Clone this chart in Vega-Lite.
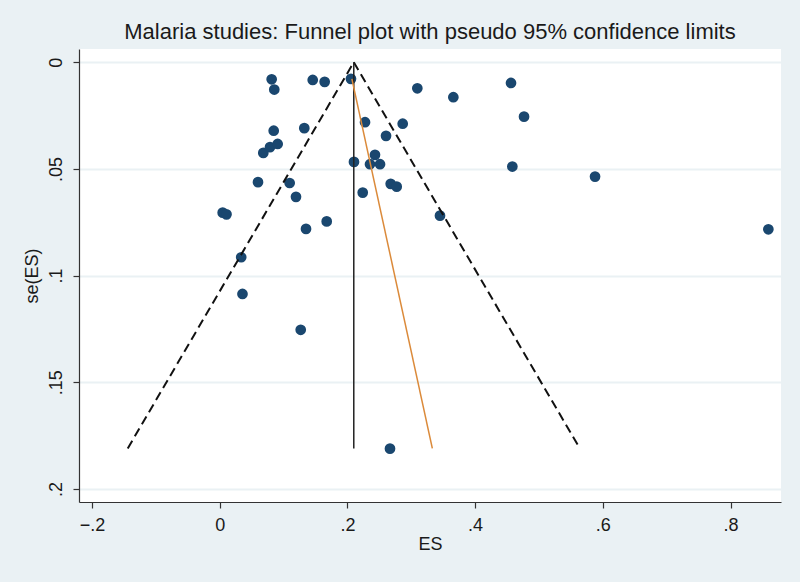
{
  "$schema": "https://vega.github.io/schema/vega-lite/v6.json",
  "width": 702,
  "height": 453,
  "autosize": {"type": "none"},
  "padding": {"left": 79, "top": 49, "right": 19, "bottom": 80},
  "background": "#EAF1F4",
  "title": {
    "text": "Malaria studies: Funnel plot with pseudo 95% confidence limits",
    "font": "Liberation Sans",
    "fontSize": 22,
    "fontWeight": "normal",
    "color": "#1a1a1a",
    "anchor": "middle",
    "offset": 5
  },
  "config": {
    "view": {"fill": "white", "stroke": null},
    "axis": {
      "labelFont": "Liberation Sans",
      "titleFont": "Liberation Sans",
      "labelFontSize": 18,
      "titleFontSize": 18,
      "titleFontWeight": "normal",
      "labelColor": "#1a1a1a",
      "titleColor": "#1a1a1a",
      "domainColor": "#333333",
      "tickColor": "#333333",
      "tickSize": 6,
      "domainWidth": 1.2,
      "tickWidth": 1.2
    }
  },
  "datasets": {
    "studies": [
      {"es": 0.0814, "se": 0.0080},
      {"es": 0.0855, "se": 0.0128},
      {"es": 0.1457, "se": 0.0083},
      {"es": 0.1644, "se": 0.0092},
      {"es": 0.2056, "se": 0.0078},
      {"es": 0.0846, "se": 0.0321},
      {"es": 0.1325, "se": 0.0309},
      {"es": 0.0683, "se": 0.0425},
      {"es": 0.0788, "se": 0.0398},
      {"es": 0.0908, "se": 0.0383},
      {"es": 0.0600, "se": 0.0562},
      {"es": 0.1096, "se": 0.0566},
      {"es": 0.1195, "se": 0.0631},
      {"es": 0.0047, "se": 0.0705},
      {"es": 0.0107, "se": 0.0713},
      {"es": 0.1352, "se": 0.0781},
      {"es": 0.1676, "se": 0.0746},
      {"es": 0.0337, "se": 0.0914},
      {"es": 0.0357, "se": 0.1086},
      {"es": 0.1269, "se": 0.1254},
      {"es": 0.2667, "se": 0.1811},
      {"es": 0.3095, "se": 0.0122},
      {"es": 0.3659, "se": 0.0164},
      {"es": 0.2276, "se": 0.0281},
      {"es": 0.2866, "se": 0.0288},
      {"es": 0.2605, "se": 0.0345},
      {"es": 0.2103, "se": 0.0467},
      {"es": 0.2432, "se": 0.0434},
      {"es": 0.2354, "se": 0.0478},
      {"es": 0.2511, "se": 0.0478},
      {"es": 0.2240, "se": 0.0611},
      {"es": 0.2678, "se": 0.0570},
      {"es": 0.2772, "se": 0.0583},
      {"es": 0.4562, "se": 0.0097},
      {"es": 0.4766, "se": 0.0255},
      {"es": 0.4583, "se": 0.0489},
      {"es": 0.5878, "se": 0.0536},
      {"es": 0.3450, "se": 0.0719},
      {"es": 0.8592, "se": 0.0783}
    ],
    "lines": [
      {"line": "lower", "kind": "funnel", "o": 1, "es": -0.144, "se": 0.181},
      {"line": "lower", "kind": "funnel", "o": 2, "es": 0.210, "se": 0.0},
      {"line": "upper", "kind": "funnel", "o": 1, "es": 0.210, "se": 0.0},
      {"line": "upper", "kind": "funnel", "o": 2, "es": 0.564, "se": 0.181},
      {"line": "center", "kind": "center", "o": 1, "es": 0.210, "se": 0.0},
      {"line": "center", "kind": "center", "o": 2, "es": 0.210, "se": 0.181},
      {"line": "egger", "kind": "egger", "o": 1, "es": 0.207, "se": 0.0078},
      {"line": "egger", "kind": "egger", "o": 2, "es": 0.333, "se": 0.181}
    ]
  },
  "encoding": {
    "x": {
      "field": "es",
      "type": "quantitative",
      "scale": {"domain": [-0.2203, 0.879], "nice": false, "zero": false},
      "axis": {
        "title": "ES",
        "values": [-0.2, 0, 0.2, 0.4, 0.6, 0.8],
        "labelExpr": "datum.value == 0 ? '0' : replace(format(datum.value, '.1f'), '0.', '.')",
        "grid": false,
        "labelPadding": 8,
        "titlePadding": 1
      }
    },
    "y": {
      "field": "se",
      "type": "quantitative",
      "scale": {"domain": [-0.0062, 0.2061], "nice": false, "zero": false, "reverse": true},
      "axis": {
        "title": "se(ES)",
        "values": [0, 0.05, 0.1, 0.15, 0.2],
        "labelExpr": "datum.value == 0 ? '0' : replace(format(datum.value, '~g'), '0.', '.')",
        "labelAngle": -90,
        "labelAlign": "center",
        "labelBaseline": "bottom",
        "labelPadding": 8,
        "grid": true,
        "gridColor": "#EAF1F4",
        "gridWidth": 2,
        "titlePadding": 6
      }
    }
  },
  "layer": [
    {
      "data": {"name": "studies"},
      "mark": {"type": "circle", "size": 115, "color": "#1A476F", "opacity": 1}
    },
    {
      "data": {"name": "lines"},
      "transform": [{"filter": "datum.kind == 'funnel'"}],
      "mark": {"type": "line", "color": "#111111", "strokeWidth": 2, "strokeDash": [9, 5]},
      "encoding": {"detail": {"field": "line"}, "order": {"field": "o"}}
    },
    {
      "data": {"name": "lines"},
      "transform": [{"filter": "datum.kind == 'center'"}],
      "mark": {"type": "line", "color": "#222222", "strokeWidth": 1.5},
      "encoding": {"order": {"field": "o"}}
    },
    {
      "data": {"name": "lines"},
      "transform": [{"filter": "datum.kind == 'egger'"}],
      "mark": {"type": "line", "color": "#DB8A3A", "strokeWidth": 1.5},
      "encoding": {"order": {"field": "o"}}
    }
  ]
}
